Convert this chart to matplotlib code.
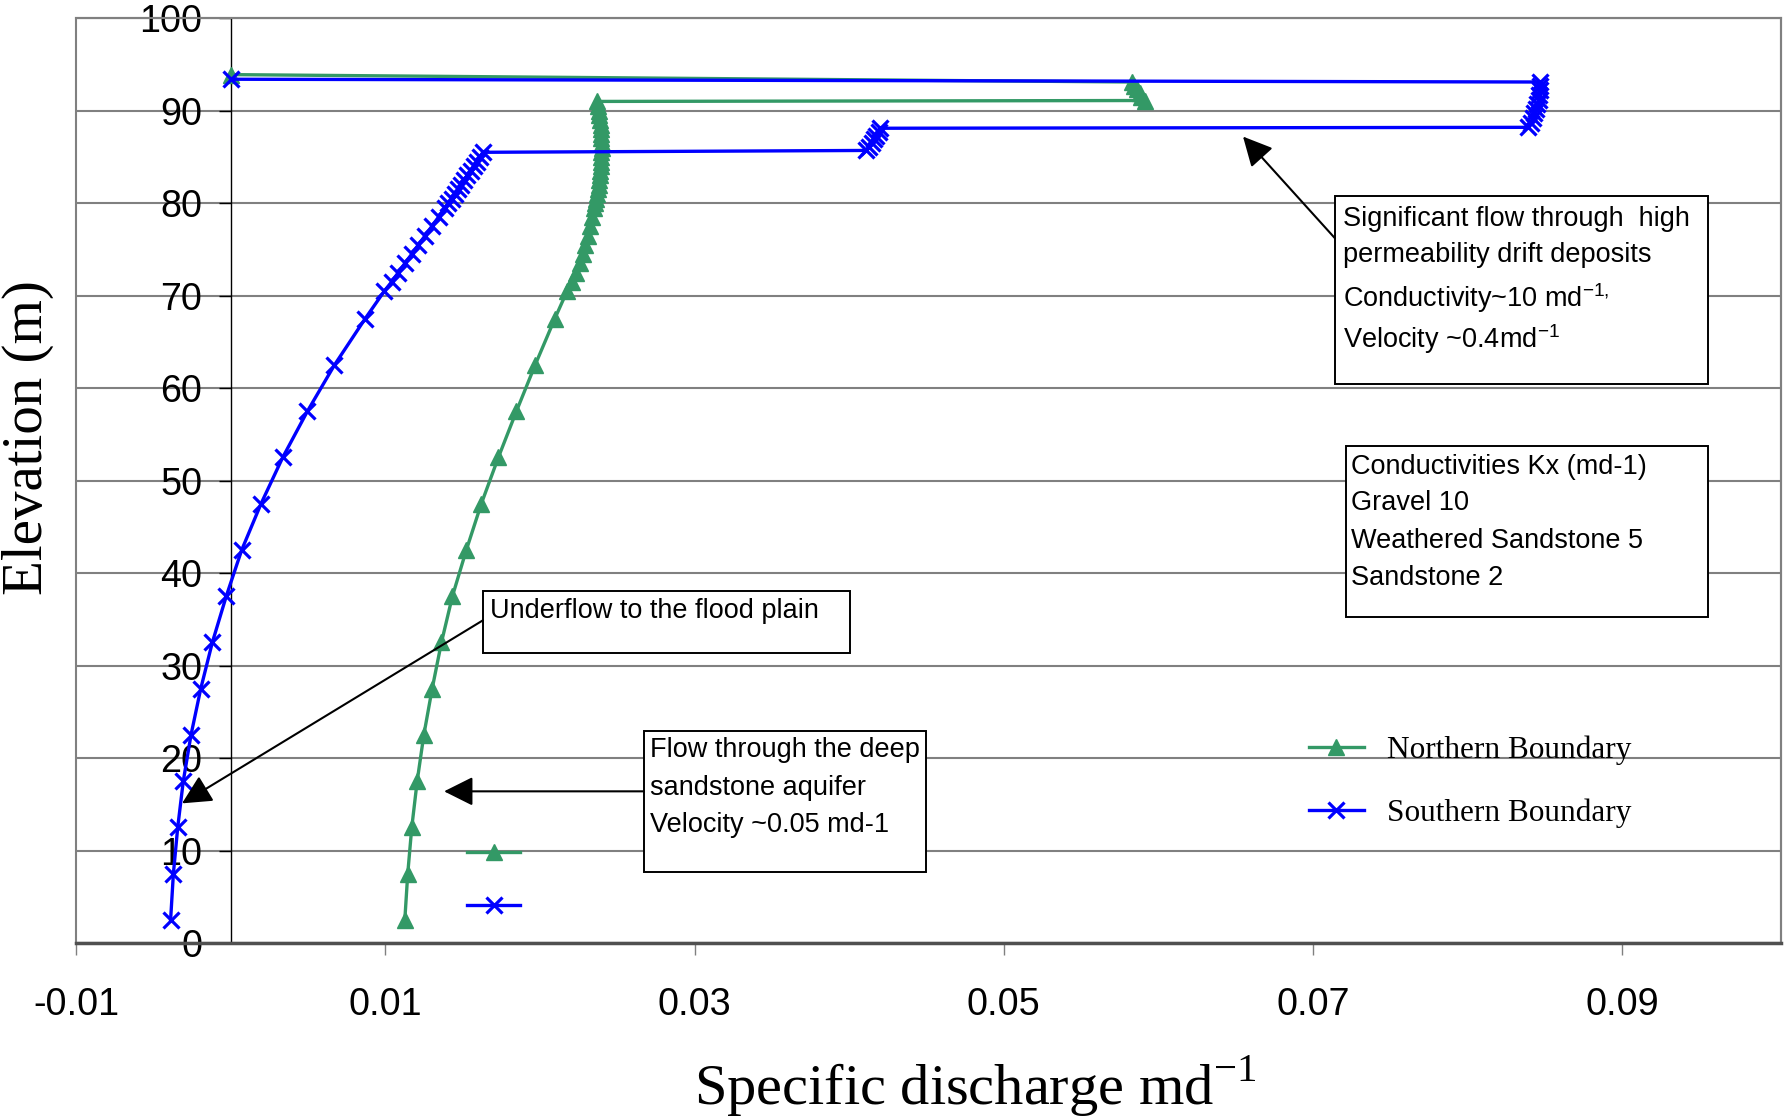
import matplotlib
matplotlib.use('Agg')
import matplotlib.pyplot as plt
from matplotlib.patches import Rectangle
from matplotlib import font_manager

# Datos (elevación en m, descarga específica en m/d)
norte_elev = [2.5, 7.5, 12.5, 17.5, 22.5, 27.5, 32.5, 37.5, 42.5, 47.5, 52.5, 57.5, 62.5, 67.5,
              70.5, 71.5, 72.5, 73.5, 74.5, 75.5, 76.5, 77.5, 78.5, 79.5,
              80.0, 80.5, 81.0, 81.5, 82.0, 82.5, 83.0, 83.5, 84.0, 84.5, 85.0, 85.5,
              86.0, 86.5, 87.0, 87.5, 88.0, 88.5, 89.0, 89.5, 90.0, 90.5, 91.0,
              91.1, 91.5, 91.9, 92.3, 92.7, 93.1,
              93.9]
norte_q = [0.01125, 0.01144, 0.0117, 0.01205, 0.01248, 0.01302, 0.01362, 0.01433, 0.01523, 0.0162,
           0.0173, 0.01847, 0.01968, 0.02095,
           0.02175, 0.02205, 0.02232, 0.02255, 0.02275, 0.02293, 0.0231, 0.02325, 0.02338, 0.0235,
           0.02356, 0.02362, 0.02368, 0.02373, 0.02378, 0.02382, 0.02386, 0.02389, 0.02392, 0.02394,
           0.02396, 0.02397, 0.02398, 0.02398, 0.02397, 0.02396, 0.02394, 0.02391, 0.02387, 0.02383,
           0.02378, 0.02373, 0.02367,
           0.0591, 0.0589, 0.0588, 0.0586, 0.0584, 0.0583,
           0.0]

sur_elev = [2.5, 7.5, 12.5, 17.5, 22.5, 27.5, 32.5, 37.5, 42.5, 47.5, 52.5, 57.5, 62.5, 67.5,
            70.5, 71.5, 72.5, 73.5, 74.5, 75.5, 76.5, 77.5, 78.5, 79.5,
            80.0, 80.5, 81.0, 81.5, 82.0, 82.5, 83.0, 83.5, 84.0, 84.5, 85.0, 85.5,
            85.7, 86.1, 86.5, 86.9, 87.3, 87.7, 88.1,
            88.2, 88.7, 89.2, 89.7, 90.2, 90.7, 91.2, 91.7, 92.2, 92.7, 93.1,
            93.4]
sur_q = [-0.0039, -0.00372, -0.00344, -0.00308, -0.00258, -0.00195, -0.0012, -0.0003, 0.0007, 0.00195,
         0.00335, 0.00495, 0.0067, 0.00868,
         0.00993, 0.0104, 0.01083, 0.01126, 0.0117, 0.01213, 0.01257, 0.013, 0.01343, 0.01386,
         0.01407, 0.01428, 0.01449, 0.0147, 0.0149, 0.0151, 0.0153, 0.0155, 0.0157, 0.0159,
         0.0161, 0.0163,
         0.0411, 0.0413, 0.0415, 0.0416, 0.0417, 0.0419, 0.042,
         0.0839, 0.0841, 0.0842, 0.0843, 0.0844, 0.0845, 0.0846, 0.0846, 0.0847, 0.0847, 0.0847,
         0.0]

xticks = [-0.01, 0.01, 0.03, 0.05, 0.07, 0.09]
xtick_labels = ['-0.01', '0.01', '0.03', '0.05', '0.07', '0.09']
yticks = [0, 10, 20, 30, 40, 50, 60, 70, 80, 90, 100]

nombres = {f.name for f in font_manager.fontManager.ttflist}
if 'Liberation Sans Narrow' in nombres:
    sans, k = 'Liberation Sans Narrow', 1.0
else:
    sans, k = 'Liberation Sans', 0.85

plt.rcParams['font.family'] = sans
plt.rcParams['mathtext.fontset'] = 'custom'
plt.rcParams['mathtext.rm'] = 'Liberation Serif'
plt.rcParams['mathtext.sf'] = sans

VERDE = '#339966'
AZUL = '#0000FF'
GRIS = '#808080'

W, H = 1785, 1119
fig = plt.figure(figsize=(W / 100, H / 100), dpi=100)
ax = fig.add_axes([76.3 / W, 1 - 943 / H, (1781 - 76.3) / W, (943 - 18.2) / H])

# Crear las curvas
linea_n, = ax.plot(norte_q, norte_elev, color=VERDE, lw=2.4, marker='^', ms=11, zorder=3)
linea_s, = ax.plot(sur_q, sur_elev, color=AZUL, lw=2.4, marker='x', ms=11, mew=2.3, zorder=3.1)

ax.set_xlim(-0.01, 0.10027)
ax.set_ylim(0, 100)
ax.set_xticks(xticks)
ax.set_xticklabels(xtick_labels)
ax.set_yticks(yticks)

# Ejes y marco
ax.spines['left'].set_position(('data', 0))
ax.spines['left'].set_linewidth(1)
ax.spines['left'].set_zorder(2)
for s in ['top', 'right']:
    ax.spines[s].set_color(GRIS)
    ax.spines[s].set_linewidth(1.5)
ax.spines['bottom'].set_color('#505050')
ax.spines['bottom'].set_linewidth(2.5)
ax.add_patch(Rectangle((0, 0), 1, 1, transform=ax.transAxes, fill=False,
                       ec=GRIS, lw=1.5, zorder=0.5, clip_on=False))
ax.yaxis.grid(True, color=GRIS, lw=1.5, zorder=0)
ax.set_axisbelow(True)

ax.tick_params(axis='y', length=8.6, width=1, pad=12, labelsize=32 * k)
ax.tick_params(axis='x', length=8.6, width=1, color=GRIS, pad=23, labelsize=32 * k)

# Títulos de ejes
fig.text(28 / W, 1 - 438 / H, 'Elevation (m)', rotation=90, ha='center', va='center',
         family='Liberation Serif', fontsize=41)
fig.text(975 / W, 1 - 1086 / H, r'Specific discharge md$^{-1}$', ha='center', va='center',
         family='Liberation Serif', fontsize=42)

# Leyendas
leg = ax.legend([linea_n, linea_s], ['Northern Boundary', 'Southern Boundary'],
                loc='center left', bbox_to_anchor=(1309 / W, 1 - 782 / H),
                bbox_transform=fig.transFigure, frameon=False,
                prop={'family': 'Liberation Serif', 'size': 22.5}, numpoints=1,
                handlelength=1.75, handletextpad=0.75, labelspacing=1.08,
                borderpad=0, borderaxespad=0)
ax.add_artist(leg)
ax.legend([linea_n, linea_s], ['', ''], loc='center left',
          bbox_to_anchor=(467 / W, 1 - 882 / H), bbox_transform=fig.transFigure,
          frameon=False, prop={'family': 'Liberation Serif', 'size': 22}, numpoints=1,
          handlelength=1.75, handletextpad=0, labelspacing=0.78,
          borderpad=0, borderaxespad=0)

# Cuadros de texto
fs = 23 * k


def cuadro(x0, x1, y0, y1):
    ax.add_patch(Rectangle((x0, y0), x1 - x0, y1 - y0, facecolor='white',
                           edgecolor='black', lw=1.4, zorder=4))


cuadro(0.07142, 0.09555, 60.47, 80.81)
for y, t in zip([77.57, 73.6, 68.77, 64.33],
                ['Significant flow through  high', 'permeability drift deposits',
                 r'Conductivity~10 md$^{\mathsf{-1,}}$', r'Velocity ~0.4md$^{\mathsf{-1}}$']):
    ax.text(0.07192, y, t, fontsize=fs, va='baseline', ha='left', zorder=5)

cuadro(0.07213, 0.09555, 35.27, 53.76)
for y, t in zip([51.5, 47.6, 43.5, 39.5],
                ['Conductivities Kx (md-1)', 'Gravel 10', 'Weathered Sandstone 5', 'Sandstone 2']):
    ax.text(0.07248, y, t, fontsize=fs, va='center', ha='left', zorder=5)

cuadro(0.01631, 0.04005, 31.37, 38.08)
ax.text(0.01673, 35.88, 'Underflow to the flood plain', fontsize=fs, va='center', ha='left', zorder=5)

cuadro(0.02672, 0.04496, 7.68, 22.93)
for y, t in zip([20.86, 16.79, 12.73],
                ['Flow through the deep', 'sandstone aquifer', 'Velocity ~0.05 md-1']):
    ax.text(0.02711, y, t, fontsize=fs, va='center', ha='left', zorder=5)

# Flechas
flecha = dict(arrowstyle='-|>', color='black', lw=1.5, mutation_scale=45, shrinkA=0, shrinkB=0)
ax.annotate('', xy=(0.06547, 87.2), xytext=(0.07142, 76.2), arrowprops=flecha, zorder=4)
ax.annotate('', xy=(-0.00316, 15.1), xytext=(0.01631, 34.9), arrowprops=flecha, zorder=4)
ax.annotate('', xy=(0.01379, 16.4), xytext=(0.02672, 16.4), arrowprops=flecha, zorder=4)

plt.savefig('out.png', dpi=100)
